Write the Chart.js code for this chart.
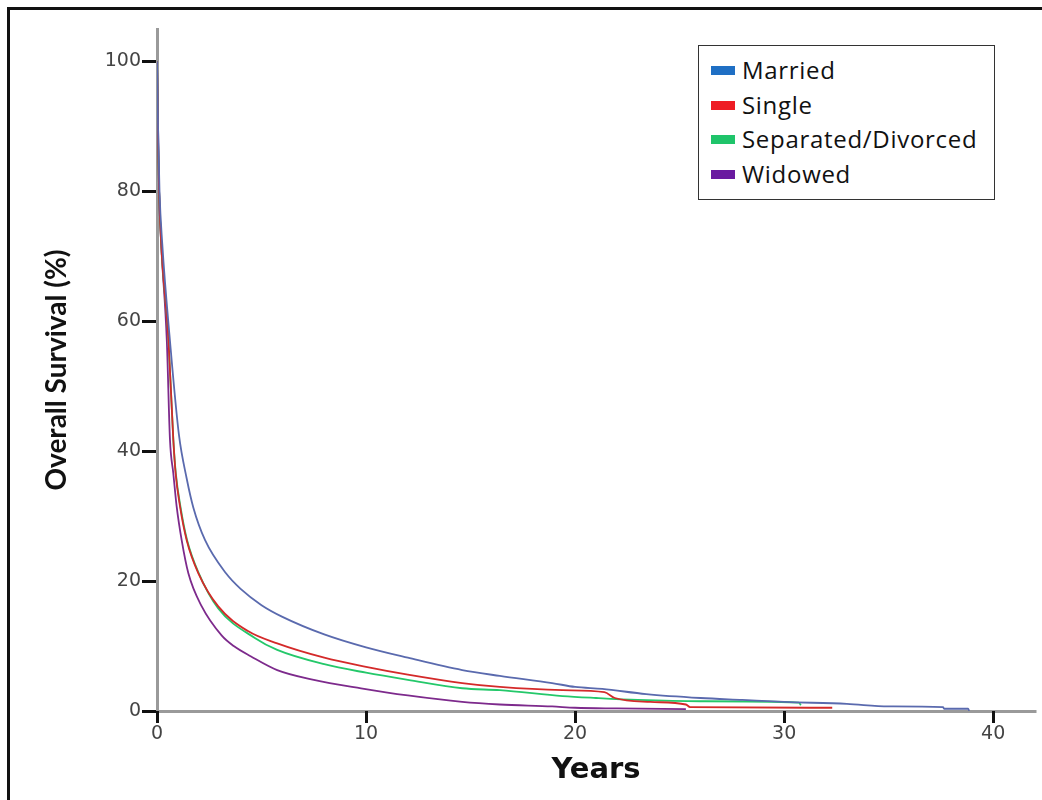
<!DOCTYPE html>
<html>
<head>
<meta charset="utf-8">
<script src="https://cdn.jsdelivr.net/npm/chart.js@4.4.1/dist/chart.umd.min.js"></script>
<style>
  html, body { margin: 0; padding: 0; background: #fff; overflow: hidden; }
  #frame { position: absolute; left: 7px; top: 7px; width: 1100px; height: 900px; border: 3px solid #111; }
  #wrap { position: absolute; left: 0; top: 0; width: 1042px; height: 800px; }
  #legend {
    position: absolute; left: 698px; top: 45px; width: 295px; height: 153px;
    border: 1.5px solid #333; background: #fff;
    font-family: "Open Sans", sans-serif; font-size: 24px; letter-spacing: 0.7px; color: #111;
  }
  #legend .row { position: absolute; left: 12px; height: 30px; line-height: 30px; white-space: nowrap; }
  #legend .sw { display: inline-block; width: 24px; height: 9px; margin-right: 7px; vertical-align: middle; position: relative; top: -2px; }
</style>
</head>
<body>
<div id="frame"></div>
<div id="wrap"><canvas id="km" width="1042" height="800"></canvas></div>
<div id="legend"></div>
<script>
// Kaplan-Meier overall survival by marital status
const groups = ['Married', 'Single', 'Separated/Divorced', 'Widowed'];
const lineColors = ['#5a6aae', '#d42a2a', '#24c86a', '#7d2a8c'];
const swatchColors = ['#1f6fc4', '#ee1c24', '#1fc46a', '#6a1aa0'];

const xTicks = [0, 10, 20, 30, 40];
const yTicks = [0, 20, 40, 60, 80, 100];

const marriedYears = [0, 0.05, 0.12, 0.25, 0.62, 1.05, 1.42, 1.74, 2.3, 3.3, 4.0, 5.0, 6, 8, 10, 12, 14.6, 16.4, 18.9, 20, 21.3, 23.4, 26, 28, 30, 33, 35, 37.6, 37.65, 38.8, 38.85];
const marriedSurv  = [100, 90, 80, 72, 57, 42.5, 35.8, 31.3, 26.3, 21.2, 18.8, 16.3, 14.5, 11.8, 9.8, 8.2, 6.3, 5.4, 4.3, 3.7, 3.4, 2.6, 2.0, 1.7, 1.4, 1.1, 0.7, 0.6, 0.35, 0.35, 0];

const singleYears = [0, 0.05, 0.1, 0.2, 0.55, 0.78, 0.89, 1.1, 1.42, 1.98, 2.93, 4.35, 5.75, 8, 10, 12, 14.6, 16.4, 19.4, 21.4, 21.9, 23.6, 25.3, 25.5, 32.3];
const singleSurv  = [100, 88, 80, 72, 57, 41.8, 36.6, 31.5, 26.3, 21.2, 16.1, 12.3, 10.4, 8.2, 6.8, 5.6, 4.3, 3.7, 3.2, 2.9, 2.0, 1.4, 1.0, 0.6, 0.5];

const sepYears = [0, 0.05, 0.1, 0.2, 0.55, 0.78, 0.9, 1.12, 1.44, 2.0, 2.93, 4.7, 5.75, 8, 10, 12, 14.6, 16.4, 19.4, 21, 23, 26, 30.7, 30.8];
const sepSurv  = [100, 88, 80, 72, 57, 41.8, 36.6, 31.5, 26.3, 21.2, 15.8, 11.2, 9.4, 7.2, 5.9, 4.8, 3.5, 3.2, 2.3, 2.0, 1.7, 1.5, 1.3, 0.9];

const widowYears = [0, 0.05, 0.1, 0.2, 0.47, 0.62, 0.78, 0.94, 1.18, 1.5, 2.14, 3.1, 3.67, 4.5, 5.75, 7.5, 9.76, 12, 14.6, 16.4, 18.9, 20, 22, 25.3];
const widowSurv  = [100, 90, 80, 72, 57, 41.8, 36.6, 31.5, 26.3, 21.2, 16.1, 11.6, 10.0, 8.4, 6.3, 4.8, 3.5, 2.4, 1.4, 1.0, 0.7, 0.5, 0.4, 0.3];

const seriesYears = [marriedYears, singleYears, sepYears, widowYears];
const seriesSurv = [marriedSurv, singleSurv, sepSurv, widowSurv];

// Legend box (HTML, drawn over the chart area)
const legendEl = document.getElementById('legend');
groups.forEach((g, i) => {
    const row = document.createElement('div');
    row.className = 'row';
    row.style.top = (9 + i * 34.7) + 'px';
    row.innerHTML = '<span class="sw" style="background:' + swatchColors[i] + '"></span>' + g;
    legendEl.appendChild(row);
});

const datasets = groups.map((g, i) => ({
    label: g,
    data: seriesYears[i].map((x, k) => ({ x: x, y: seriesSurv[i][k] })),
    borderColor: lineColors[i],
    borderWidth: 1.8,
    pointRadius: 0,
    cubicInterpolationMode: 'monotone',
    fill: false
}));

// Short dark tick marks outside the axis lines
const tickMarks = {
    id: 'tickMarks',
    afterDraw(chart) {
        const ctx = chart.ctx;
        const xs = chart.scales.x, ys = chart.scales.y;
        const bottom = chart.chartArea.bottom, left = chart.chartArea.left;
        ctx.save();
        ctx.strokeStyle = '#111';
        ctx.lineWidth = 3;
        ctx.beginPath();
        xs.ticks.forEach(t => {
            const px = Math.round(xs.getPixelForValue(t.value)) + 0.5;
            ctx.moveTo(px, bottom);
            ctx.lineTo(px, bottom + 12);
        });
        ys.ticks.forEach(t => {
            const py = Math.round(ys.getPixelForValue(t.value)) + 0.5;
            ctx.moveTo(left - 15, py);
            ctx.lineTo(left - 1, py);
        });
        ctx.stroke();
        ctx.restore();
    }
};

const tickFont = { family: 'DejaVu Sans', size: 19 };

new Chart(document.getElementById('km'), {
    type: 'line',
    data: { datasets: datasets },
    plugins: [tickMarks],
    options: {
        responsive: false,
        animation: false,
        layout: { padding: { left: 0, right: 7, top: 29, bottom: 0 } },
        plugins: { legend: { display: false }, tooltip: { enabled: false } },
        scales: {
            x: {
                type: 'linear',
                min: 0,
                max: 42,
                afterBuildTicks: s => { s.ticks = xTicks.map(v => ({ value: v })); },
                afterFit: s => { s.height = 89; },
                border: { color: '#9a9a9a', width: 3 },
                grid: { drawOnChartArea: false, drawTicks: true, tickLength: 11, tickColor: '#222', lineWidth: 2.5 },
                ticks: { font: tickFont, color: '#444', padding: 1, maxRotation: 0 },
                title: { display: true, text: 'Years', color: '#111',
                         font: { family: 'DejaVu Sans', size: 29, weight: 'bold' },
                         padding: { top: 0, bottom: 12 } }
            },
            y: {
                min: 0,
                max: 105,
                afterBuildTicks: s => { s.ticks = yTicks.map(v => ({ value: v })); },
                afterFit: s => { s.width = 157; },
                border: { color: '#9a9a9a', width: 3 },
                grid: { drawOnChartArea: false, drawTicks: true, tickLength: 14, tickColor: '#222', lineWidth: 2.5 },
                ticks: { font: tickFont, color: '#444', padding: 2 },
                title: { display: true, text: 'Overall Survival (%)', color: '#111',
                         font: { family: 'Lato', size: 28, weight: 'bold' },
                         padding: { top: 40, bottom: 0 } }
            }
        }
    }
});
</script>
</body>
</html>
